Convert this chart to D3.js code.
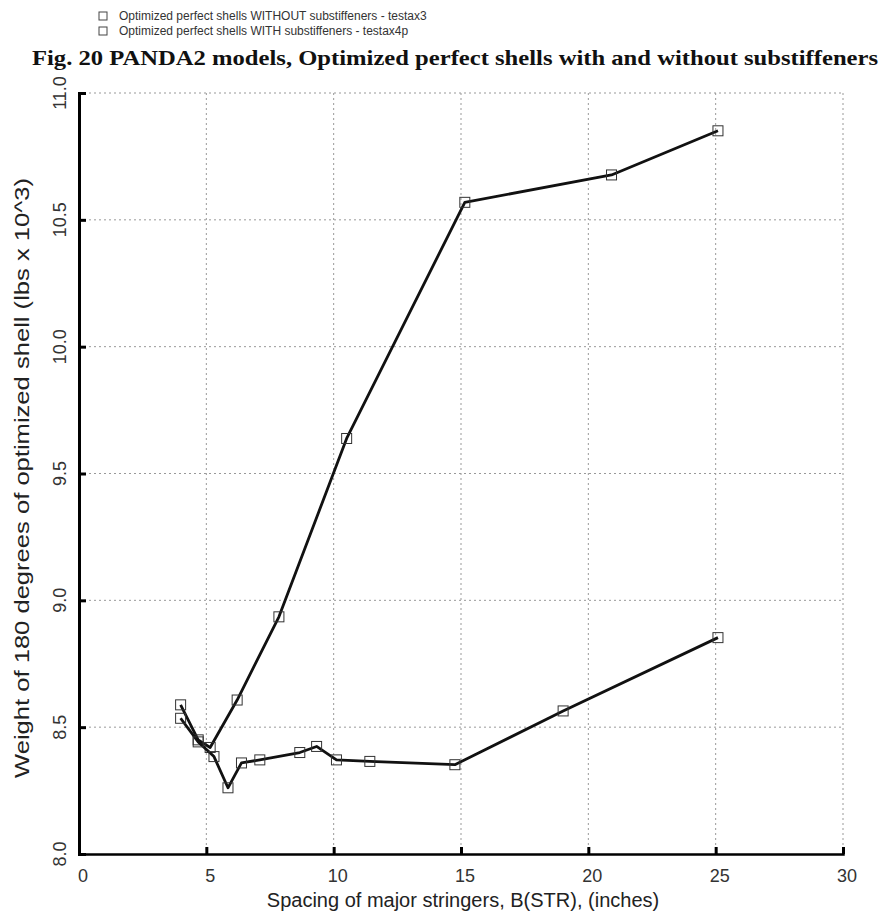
<!DOCTYPE html>
<html>
  <head>
    <script type="text/javascript" src="https://d3js.org/d3.v7.min.js"></script>
    <style>
      body { margin: 0; background: #fff; }
    </style>
  </head>
  <body>
    <svg width="885" height="915" id="svg1"></svg>
    <script>
      // series: without substiffeners (testax3)
      const withoutX = [3.99, 4.68, 5.15, 6.21, 7.85, 10.51, 15.15, 20.91, 25.09];
      const withoutY = [8.588, 8.45, 8.42, 8.607, 8.935, 9.638, 10.569, 10.677, 10.851];
      // series: with substiffeners (testax4p)
      const withX = [3.99, 4.68, 5.30, 5.85, 6.38, 7.10, 8.67, 9.33, 10.11, 11.42, 14.76, 19.01, 25.09];
      const withY = [8.535, 8.442, 8.384, 8.261, 8.359, 8.371, 8.40, 8.424, 8.371, 8.365, 8.352, 8.564, 8.853];

      const xTicks = [0, 5, 10, 15, 20, 25, 30];
      const yTicks = [8.0, 8.5, 9.0, 9.5, 10.0, 10.5, 11.0];
      const legendLabels = [
        "Optimized perfect shells WITHOUT substiffeners - testax3",
        "Optimized perfect shells WITH substiffeners - testax4p",
      ];

      const svg = d3.select("#svg1");
      const plotLeft = 79, plotRight = 843, plotTop = 93, plotBottom = 854;

      var x = d3.scaleLinear().domain([0, 30]).range([plotLeft, plotRight]);
      var y = d3.scaleLinear().domain([8, 11]).range([plotBottom, plotTop]);

      // dotted grid
      svg.append("g")
        .selectAll("line")
        .data(xTicks.slice(1))
        .enter()
        .append("line")
        .attr("x1", (d) => x(d)).attr("x2", (d) => x(d))
        .attr("y1", plotTop).attr("y2", plotBottom)
        .attr("stroke", "#999")
        .attr("stroke-width", 1)
        .attr("stroke-dasharray", "2,3");
      svg.append("g")
        .selectAll("line")
        .data(yTicks.slice(1))
        .enter()
        .append("line")
        .attr("x1", plotLeft).attr("x2", plotRight)
        .attr("y1", (d) => y(d)).attr("y2", (d) => y(d))
        .attr("stroke", "#999")
        .attr("stroke-width", 1)
        .attr("stroke-dasharray", "2,3");

      // axes
      svg.append("g")
        .attr("transform", "translate(0," + plotBottom + ")")
        .call(d3.axisTop(x).tickValues(xTicks).tickSize(7).tickFormat(""))
        .call((g) => g.select(".domain").attr("stroke", "#000").attr("stroke-width", 2.5))
        .call((g) => g.selectAll(".tick line").attr("stroke", "#000").attr("stroke-width", 3));
      svg.append("g")
        .attr("transform", "translate(" + plotLeft + ",0)")
        .call(d3.axisRight(y).tickValues(yTicks).tickSize(7).tickFormat(""))
        .call((g) => g.select(".domain").attr("stroke", "#000").attr("stroke-width", 3))
        .call((g) => g.selectAll(".tick line").attr("stroke", "#000").attr("stroke-width", 3));

      // tick labels
      svg.append("g")
        .selectAll("text")
        .data(xTicks)
        .enter()
        .append("text")
        .attr("x", (d) => x(d) + 4)
        .attr("y", 882)
        .attr("text-anchor", "middle")
        .attr("font-family", "Liberation Sans, Arial, sans-serif")
        .attr("font-size", 18)
        .attr("fill", "#333")
        .text((d) => d);
      svg.append("g")
        .selectAll("text")
        .data(yTicks)
        .enter()
        .append("text")
        .attr("transform", (d) => "translate(66," + y(d) + ") rotate(-90)")
        .attr("text-anchor", "middle")
        .attr("font-family", "Liberation Sans, Arial, sans-serif")
        .attr("font-size", 18)
        .attr("fill", "#333")
        .text((d) => d.toFixed(1));

      // axis titles
      svg.append("text")
        .attr("x", 463)
        .attr("y", 907)
        .attr("text-anchor", "middle")
        .attr("font-family", "Liberation Sans, Arial, sans-serif")
        .attr("font-size", 20)
        .attr("fill", "#222")
        .text("Spacing of major stringers, B(STR), (inches)");
      svg.append("text")
        .attr("transform", "translate(29,478) rotate(-90)")
        .attr("text-anchor", "middle")
        .attr("font-family", "Liberation Sans, Arial, sans-serif")
        .attr("font-size", 21)
        .attr("textLength", 600)
        .attr("lengthAdjust", "spacingAndGlyphs")
        .attr("fill", "#222")
        .text("Weight of 180 degrees of optimized shell (lbs x 10^3)");

      // title
      svg.append("text")
        .attr("x", 32)
        .attr("y", 65)
        .attr("font-family", "Liberation Serif, Times New Roman, serif")
        .attr("font-weight", "bold")
        .attr("font-size", 22)
        .attr("textLength", 846)
        .attr("lengthAdjust", "spacingAndGlyphs")
        .attr("fill", "#111")
        .text("Fig. 20 PANDA2 models, Optimized perfect shells with and without substiffeners");

      // legend
      var legend = svg.append("g").attr("transform", "translate(103,16)");
      legend.selectAll("rect")
        .data(legendLabels)
        .enter()
        .append("rect")
        .attr("x", -4).attr("y", (d, i) => i * 15 - 4)
        .attr("width", 8).attr("height", 8)
        .attr("fill", "none")
        .attr("stroke", "#444");
      legend.selectAll("text")
        .data(legendLabels)
        .enter()
        .append("text")
        .attr("x", 16)
        .attr("y", (d, i) => i * 15 + 4)
        .attr("font-family", "Liberation Sans, Arial, sans-serif")
        .attr("font-size", 12)
        .attr("fill", "#333")
        .text((d) => d);

      // lines + markers
      const series = [
        withoutX.map((v, i) => [v, withoutY[i]]),
        withX.map((v, i) => [v, withY[i]]),
      ];
      const line = d3.line().x((d) => x(d[0])).y((d) => y(d[1]));
      series.forEach((pts) => {
        svg.append("path")
          .datum(pts)
          .attr("d", line)
          .attr("fill", "none")
          .attr("stroke", "#111")
          .attr("stroke-width", 2.8)
          .attr("stroke-linejoin", "round");
        svg.append("g")
          .selectAll("rect")
          .data(pts)
          .enter()
          .append("rect")
          .attr("x", (d) => x(d[0]) - 5)
          .attr("y", (d) => y(d[1]) - 5)
          .attr("width", 10)
          .attr("height", 10)
          .attr("fill", "none")
          .attr("stroke", "#333")
          .attr("stroke-width", 1);
      });
    </script>
  </body>
</html>
